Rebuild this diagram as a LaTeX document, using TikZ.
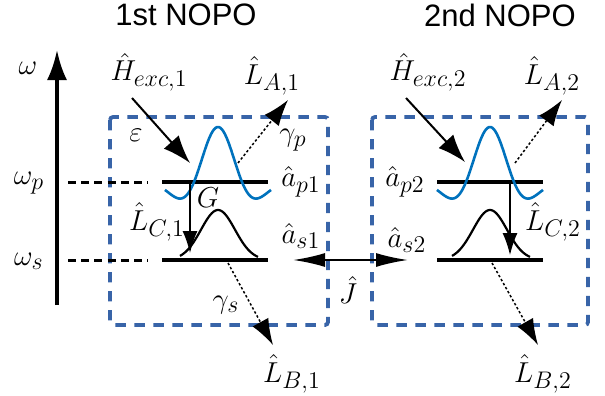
\documentclass[tikz,border=0pt]{standalone}
\usepackage{amsmath,amssymb}
\usepackage[no-math]{fontspec}
\newfontfamily\titlefont{Liberation Sans}
\DeclareMathSizes{15}{15}{11.5}{9}
\usetikzlibrary{arrows.meta}
\definecolor{BoxBlue}{RGB}{56,100,168}
\definecolor{WaveBlue}{RGB}{0,114,189}
\tikzset{
  box/.style={draw=BoxBlue,line width=1.9pt,dash pattern=on 5.2pt off 4.3pt,rounded corners=1.5pt},
  level/.style={line width=1.9pt},
  guide/.style={line width=1.5pt,dash pattern=on 4pt off 2.6pt},
  wave/.style={draw=WaveBlue,line width=1.3pt},
  mode/.style={draw=black,line width=1.1pt},
  lab/.style={inner sep=0pt,font=\fontsize{15}{18}\selectfont},
  title/.style={inner sep=0pt,font=\titlefont\fontsize{15.5}{18}\selectfont},
}
\tikzset{pump/.style={line width=1pt,-{Latex[length=14pt,width=10pt]}},
  loss/.style={line width=0.75pt,dash pattern=on 1.2pt off 1.1pt,-{Latex[length=13pt,width=9pt]}},
  conv/.style={line width=0.6pt,-{Latex[length=11pt,width=7.5pt]}}}

\begin{document}
\begin{tikzpicture}[x=0.5pt,y=-0.5pt]
\useasboundingbox (0,0) rectangle (605,396);
% titles
\node[title] (t1) at (186,15) {1st NOPO};
\node[title] (t2) at (500,15) {2nd NOPO};
% frequency axis
\coordinate (wbot) at (57,305);
\coordinate (wtop) at (57,50);
\draw[line width=1.8pt,-{Latex[length=15pt,width=10pt]}] (wbot)--(wtop);
\node[lab] (w) at (28,68) {$\omega$};
\node[lab] (wp) at (29,183) {$\omega_p$};
\node[lab] (ws) at (29,261) {$\omega_s$};
% cavities
\draw[box] (110,117) rectangle (328,325);
\draw[box] (372,117) rectangle (588,325);
% levels of the 1st NOPO
\coordinate (gp1) at (68,182);
\coordinate (gs1) at (68,260);
\coordinate (p1a) at (162,182);
\coordinate (p1b) at (268,182);
\coordinate (s1a) at (162,260);
\coordinate (s1b) at (268,260);
\draw[guide] (gp1)--(148,182);
\draw[guide] (gs1)--(148,260);
\draw[level] (p1a)--(p1b);
\draw[level] (s1a)--(s1b);
\draw[wave] plot[domain=-3.47:3.47,samples=70,smooth] ({218+15.28*\x},{182-55*cos(\x r)*exp(-\x*\x/6.4)});
\draw[mode] plot[domain=-38:40,samples=60,smooth] ({218+\x},{260-50*exp(-\x*\x/578)});
% levels of the 2nd NOPO
\coordinate (p2a) at (437,182);
\coordinate (p2b) at (543,182);
\coordinate (s2a) at (437,260);
\coordinate (s2b) at (543,260);
\draw[level] (p2a)--(p2b);
\draw[level] (s2a)--(s2b);
\draw[wave] plot[domain=-3.47:3.47,samples=70,smooth] ({490+15.28*\x},{182-55*cos(\x r)*exp(-\x*\x/6.4)});
\draw[mode] plot[domain=-38:40,samples=60,smooth] ({490+\x},{260-50*exp(-\x*\x/578)});
% mode labels
\node[lab] (ap1) at (301,182) {$\hat{a}_{p1}$};
\node[lab] (as1) at (301,236) {$\hat{a}_{s1}$};
\node[lab] (ap2) at (405,182) {$\hat{a}_{p2}$};
\node[lab] (as2) at (407,240) {$\hat{a}_{s2}$};
% excitation
\node[lab] (H1) at (149,72) {$\hat{H}_{exc,1}$};
\node[lab] (H2) at (428,72) {$\hat{H}_{exc,2}$};
\coordinate (h1s) at (132,98);
\coordinate (h1e) at (190,163);
\coordinate (h2s) at (406,98);
\coordinate (h2e) at (465,162);
\draw[pump] (h1s)--(h1e);
\draw[pump] (h2s)--(h2e);
\node[lab] (eps) at (136,135) {$\varepsilon$};
% pump losses
\node[lab] (LA1) at (272,76) {$\hat{L}_{A,1}$};
\node[lab] (LA2) at (552,76) {$\hat{L}_{A,2}$};
\coordinate (la1s) at (238,163);
\coordinate (la1e) at (288,100);
\coordinate (la2s) at (515,163);
\coordinate (la2e) at (562,100);
\draw[loss] (la1s)--(la1e);
\draw[loss] (la2s)--(la2e);
\node[lab] (gp) at (293,140) {$\gamma_p$};
% signal losses
\node[lab] (LB1) at (292,374) {$\hat{L}_{B,1}$};
\node[lab] (LB2) at (543,374) {$\hat{L}_{B,2}$};
\coordinate (lb1s) at (228,263);
\coordinate (lb1e) at (273,345);
\coordinate (lb2s) at (492,263);
\coordinate (lb2e) at (538,345);
\draw[loss] (lb1s)--(lb1e);
\draw[loss] (lb2s)--(lb2e);
\node[lab] (gs) at (226,305) {$\gamma_s$};
% down conversion
\coordinate (c1s) at (190,182);
\coordinate (c1e) at (190,253);
\coordinate (c2s) at (510,182);
\coordinate (c2e) at (510,255);
\draw[conv] (c1s)--(c1e);
\draw[conv] (c2s)--(c2e);
\node[lab] (G) at (208,198) {$G$};
\node[lab] (LC1) at (157,222) {$\hat{L}_{C,1}$};
\node[lab] (LC2) at (553,222) {$\hat{L}_{C,2}$};
% coupling
\coordinate (j1) at (293,260);
\coordinate (j2) at (408,260);
\draw[line width=1pt,{Latex[length=16pt,width=7pt]}-{Latex[length=16pt,width=7pt]}] (j1)--(j2);
\node[lab] (J) at (348,290) {$\hat{J}$};
\end{tikzpicture}
\end{document}
